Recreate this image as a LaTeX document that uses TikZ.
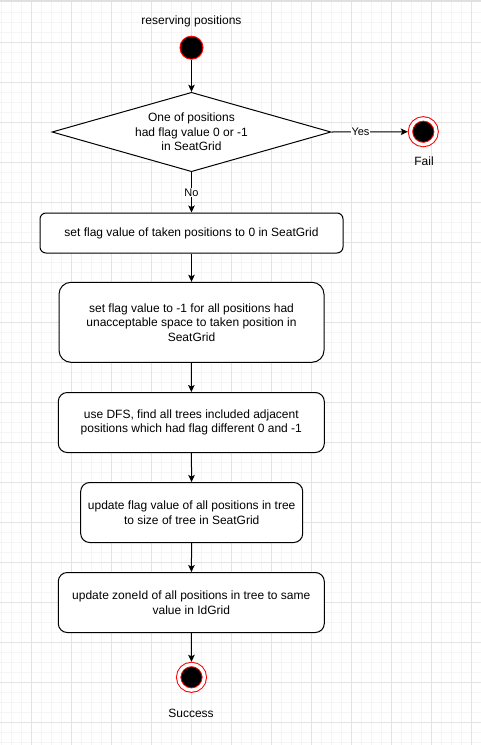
\documentclass[tikz,border=0pt]{standalone}
\usepackage{fontspec}
\setmainfont{Liberation Sans}
\usepackage{tikz}
\usetikzlibrary{arrows.meta, shapes.geometric, positioning}

\tikzset{
	txt/.style={font=\fontsize{12}{14.5}\selectfont, align=center},
	lbl/.style={font=\fontsize{11}{13}\selectfont, fill=white, inner sep=1pt},
	act/.style={txt, draw, rectangle, line width=1pt, fill=white, inner sep=0pt},
	startdot/.style={circle, draw=red, fill=black, line width=1pt, minimum size=23pt, inner sep=0pt},
	enddot/.style={circle, draw=red, fill=black, line width=1pt, double=white, double distance=3.3pt, minimum size=25.7pt, inner sep=0pt, outer sep=2.65pt}
}

\begin{document}
\begin{tikzpicture}[x=1pt, y=-1pt, >={Stealth[length=7pt, width=6.5pt, inset=1.5pt]}]
		\useasboundingbox (0,0) rectangle (481,745);
		% grid paper
		\fill[white] (0,0) rectangle (481,745);
		\foreach \gx in {1.3,11.3,...,481} \draw[black!4, line width=1pt] (\gx,0) -- (\gx,745);
		\foreach \gy in {12.3,22.3,...,745} \draw[black!4, line width=1pt] (0,\gy) -- (481,\gy);
		\foreach \gx in {31.3,71.3,...,481} \draw[black!11, line width=1pt] (\gx,0) -- (\gx,745);
		\foreach \gy in {42.3,82.3,...,745} \draw[black!11, line width=1pt] (0,\gy) -- (481,\gy);
		\fill[black!12] (0,0) rectangle (481,2.3);
		
		\node[txt] (title) at (191.5,21) {reserving positions};
		\node[startdot] (start) at (191.5,47.7) {};
		
		\node[txt, diamond, draw, line width=1pt, fill=white, aspect=3.5, inner sep=0pt, minimum width=279pt, minimum height=79.4pt] (check) at (191.5,132) {One of positions\\had flag value 0 or -1\\in SeatGrid};
		\node[enddot] (fail) at (423.3,131.7) {};
		\node[txt] (failtxt) at (424,161) {Fail};
		
		\node[act, rounded corners=6pt, minimum width=303pt, minimum height=40pt] (setzero) at (191.5,233) {set flag value of taken positions to 0 in SeatGrid};
		\node[act, rounded corners=12pt, minimum width=265pt, minimum height=80pt] (setminus) at (191.5,322.3) {set flag value to -1 for all positions had\\unacceptable space to taken position in\\SeatGrid};
		\node[act, rounded corners=9pt, minimum width=266pt, minimum height=60pt] (dfs) at (191.3,422.5) {use DFS, find all trees included adjacent\\positions which had flag different 0 and -1};
		\node[act, rounded corners=9pt, minimum width=222pt, minimum height=60pt] (size) at (191.7,512.5) {update flag value of all positions in tree\\to size of tree in SeatGrid};
		\node[act, rounded corners=9pt, minimum width=266pt, minimum height=60pt] (zone) at (191.3,602.5) {update zoneId of all positions in tree to same\\value in IdGrid};
		
		\node[enddot] (success) at (191.5,677.3) {};
		\node[txt] (successtxt) at (191,713) {Success};
		
		\draw[->, line width=1pt] (start) -- (check.north);
		\draw[->, line width=1pt] (check.east) -- node[lbl, pos=0.38]{Yes} (fail);
		\draw[->, line width=1pt] (check.south) -- node[lbl, pos=0.5]{No} (setzero);
		\draw[->, line width=1pt] (setzero) -- (setminus);
		\draw[->, line width=1pt] (setminus) -- (dfs);
		\draw[->, line width=1pt] (dfs) -- (size);
		\draw[->, line width=1pt] (size) -- (zone);
		\draw[->, line width=1pt] (zone) -- (success);
	\end{tikzpicture}
\end{document}
